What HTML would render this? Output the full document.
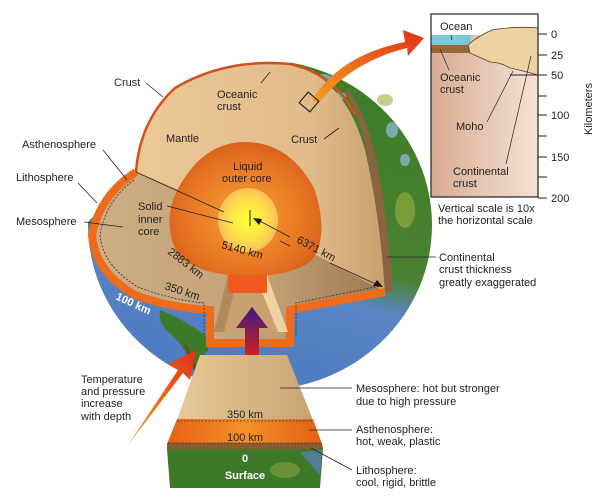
<!DOCTYPE html>
<html><head><meta charset="utf-8"><style>
html,body{margin:0;padding:0;background:#fff;}
svg{display:block;}
text{font-family:"Liberation Sans",Arial,sans-serif;font-size:11px;fill:#222;}
</style></head><body>
<svg width="603" height="502" viewBox="0 0 603 502" xmlns="http://www.w3.org/2000/svg">
<defs>
<linearGradient id="globe" x1="0.6" y1="0" x2="0.35" y2="1">
<stop offset="0" stop-color="#3e7c2a"/><stop offset="0.55" stop-color="#4a8232"/><stop offset="0.66" stop-color="#5a86c6"/><stop offset="1" stop-color="#4a78c0"/>
</linearGradient>
<linearGradient id="vface" x1="0" y1="0" x2="1" y2="0">
<stop offset="0" stop-color="#ecc898"/><stop offset="0.7" stop-color="#e2bb8a"/><stop offset="1" stop-color="#c9a070"/>
</linearGradient>
<linearGradient id="hface" x1="0" y1="0" x2="1" y2="0">
<stop offset="0" stop-color="#cfae84"/><stop offset="0.6" stop-color="#c4a076"/><stop offset="1" stop-color="#9c7850"/>
</linearGradient>
<radialGradient id="core" cx="0.5" cy="0.55" r="0.6">
<stop offset="0" stop-color="#f7a030"/><stop offset="0.6" stop-color="#ea7a24"/><stop offset="1" stop-color="#d45a1a"/>
</radialGradient>
<radialGradient id="inner" cx="0.5" cy="0.5" r="0.5">
<stop offset="0" stop-color="#ffff30"/><stop offset="0.6" stop-color="#fde24a"/><stop offset="1" stop-color="#f8c058"/>
</radialGradient>
<linearGradient id="purple" x1="0" y1="0" x2="0" y2="1">
<stop offset="0" stop-color="#3a1a80"/><stop offset="1" stop-color="#d02020"/>
</linearGradient>
<linearGradient id="wtan" x1="0" y1="0" x2="1" y2="0">
<stop offset="0" stop-color="#e8c898"/><stop offset="1" stop-color="#c8a474"/>
</linearGradient>
<linearGradient id="worange" x1="0" y1="0" x2="1" y2="0">
<stop offset="0" stop-color="#e86018"/><stop offset="0.5" stop-color="#f49028"/><stop offset="1" stop-color="#e06018"/>
</linearGradient>
<linearGradient id="inset" x1="0" y1="0" x2="1" y2="0">
<stop offset="0" stop-color="#d8ac92"/><stop offset="1" stop-color="#f4e2d4"/>
</linearGradient>
<linearGradient id="arr" x1="0" y1="1" x2="1" y2="0">
<stop offset="0" stop-color="#f5a020"/><stop offset="1" stop-color="#e03018"/>
</linearGradient>
</defs>

<!-- globe -->
<ellipse cx="260" cy="225" rx="172" ry="165" fill="url(#globe)"/>
<path d="M0 0 L300 0 L290 64 Q225 58 175 88 Q140 120 136 172 L88 222 L0 222 Z" fill="#fff"/>
<g fill="#8fb0d0" opacity="0.8">
<ellipse cx="322" cy="78" rx="10" ry="4"/><ellipse cx="340" cy="96" rx="6" ry="4"/>
<ellipse cx="392" cy="130" rx="6" ry="8"/><ellipse cx="405" cy="160" rx="5" ry="6"/>
</g>
<g fill="#9ab040" opacity="0.6">
<ellipse cx="405" cy="210" rx="10" ry="18"/><ellipse cx="385" cy="100" rx="8" ry="6"/>
</g>
<path d="M160 310 Q185 320 205 335 L208 350 Q200 360 198 375 L190 365 Q185 345 168 332 Q158 322 160 310 Z" fill="#3f7a2a"/>
<path d="M185 345 Q192 355 196 372" stroke="#6a4a20" stroke-width="3" fill="none"/>

<!-- vertical face -->
<path d="M136 172 Q140 120 175 88 Q225 58 290 64 Q345 78 365 150 Q380 215 385 292 L250 220 Z" fill="url(#vface)"/>
<path d="M136 172 Q140 120 175 88 Q225 58 290 64 Q335 74 355 115" fill="none" stroke="#d0501a" stroke-width="2.5"/>
<path d="M345 92 Q361 118 366 152 Q380 215 385 292 L393 292 Q388 215 375 155 Q367 118 349 90 Z" fill="#8a6440"/>

<!-- horizontal face -->
<path d="M136 172 Q100 195 92 235 Q95 272 135 295 Q170 308 210 310 L210 343 L290 343 L290 310 L385 292 L250 220 Z" fill="url(#hface)"/>
<path d="M136 172 Q100 195 92 235 Q95 272 135 295 Q170 308 210 310 L210 343 L290 343 L290 310 L385 292" fill="none" stroke="#ee6a1c" stroke-width="8"/>
<path d="M134 180 Q106 200 100 235 Q103 266 138 287 Q172 300 204 303 L204 336" fill="none" stroke="#333" stroke-width="0.8" stroke-dasharray="2,1.5"/>
<path d="M296 336 L296 303 L380 286" fill="none" stroke="#333" stroke-width="0.8" stroke-dasharray="2,1.5"/>

<!-- core -->
<path d="M245 142 Q290 142 315 190 Q330 240 310 262 Q290 276 250 276 Q200 276 178 255 Q160 220 180 185 Q205 142 245 142 Z" fill="url(#core)"/>
<ellipse cx="248" cy="220" rx="30" ry="32" fill="url(#inner)"/>

<!-- shaft -->
<path d="M228 275 L267 275 L288 332 L214 332 Z" fill="#c8a072"/>
<path d="M228 275 L214 332 L224 332 L234 292 Z" fill="#b08a5c"/>
<path d="M267 275 L288 332 L278 332 L262 292 Z" fill="#eed2a0"/>
<rect x="228" y="275" width="39" height="18" fill="#f05a1e"/>

<!-- purple arrow -->
<path d="M245 355 L245 328 L236 328 L252 307 L268 328 L259 328 L259 355 Z" fill="url(#purple)"/>

<!-- orange arrow lower-left -->
<path d="M128 445 L178 370 L168 364 L196 350 L190 380 L183 373 Z" fill="url(#arr)"/>

<!-- wedge -->
<path d="M200 355 L287 355 L313 420 L177 420 Z" fill="url(#wtan)"/>
<path d="M177 419 L313 419 L322 444 L167 444 Z" fill="url(#worange)"/>
<path d="M167 443 L322 443 L323 449 L167 449 Z" fill="#8a5a30"/>
<path d="M167 449 L323 449 L320 488 L170 488 Z" fill="#3c7a28"/>
<ellipse cx="285" cy="470" rx="15" ry="8" fill="#8aa040" opacity="0.6"/>
<path d="M300 452 L322 450 L320 475 Z" fill="#5a80c0" opacity="0.7"/>
<path d="M177 421 L313 421 M168 443 L322 443" stroke="#333" stroke-width="0.8" stroke-dasharray="2,1.5"/>

<!-- top-right arrow -->
<path d="M312 100 Q340 55 405 42 L403 30 L424 38 L408 56 L407 48 Q350 62 318 104 Z" fill="url(#arr)"/>
<rect x="302" y="95" width="14" height="14" fill="none" stroke="#111" stroke-width="1" transform="rotate(40 309 102)"/>

<!-- inset -->
<rect x="431" y="14" width="107" height="183" fill="url(#inset)"/>
<rect x="431" y="14" width="107" height="21" fill="#fff"/>
<rect x="431" y="35" width="40" height="10" fill="#7cc8d4"/>
<rect x="431" y="45" width="40" height="8" fill="#9a6838"/>
<path d="M468 45 Q478 36 492 30 Q515 26 538 28 L538 75 Q520 70 510 68 Q500 62 490 62 L470 53 Z" fill="#efd2a2" stroke="#5a3a20" stroke-width="0.8"/>
<rect x="431" y="14" width="107" height="183" fill="none" stroke="#222" stroke-width="1.2"/>
<g stroke="#222" stroke-width="1">
<line x1="538" y1="34" x2="547" y2="34"/><line x1="538" y1="55" x2="547" y2="55"/><line x1="510" y1="75" x2="547" y2="75"/>
<line x1="538" y1="96" x2="547" y2="96"/><line x1="538" y1="115" x2="547" y2="115"/><line x1="538" y1="136" x2="547" y2="136"/>
<line x1="538" y1="157" x2="547" y2="157"/><line x1="538" y1="177" x2="547" y2="177"/><line x1="538" y1="198" x2="547" y2="198"/>
<line x1="451" y1="35" x2="452" y2="40" stroke-width="0.7"/>
<line x1="440" y1="49" x2="449" y2="70" stroke-width="0.7"/>
<line x1="513" y1="71" x2="487" y2="122" stroke-width="0.7"/>
<line x1="531" y1="56" x2="506" y2="164" stroke-width="0.7"/>
</g>
<text x="440" y="30">Ocean</text>
<text x="440" y="81">Oceanic</text><text x="440" y="93">crust</text>
<text x="456" y="130">Moho</text>
<text x="453" y="175">Continental</text><text x="453" y="187">crust</text>
<text x="551" y="38">0</text><text x="551" y="59">25</text><text x="551" y="79">50</text>
<text x="551" y="119">100</text><text x="551" y="161">150</text><text x="551" y="202">200</text>
<text x="0" y="0" transform="translate(592 135) rotate(-90)">Kilometers</text>
<text x="438" y="212">Vertical scale is 10x</text>
<text x="438" y="224">the horizontal scale</text>

<!-- leader lines -->
<g stroke="#222" stroke-width="0.8" fill="none">
<line x1="146" y1="83" x2="163" y2="97"/>
<line x1="261" y1="83" x2="270" y2="72"/>
<line x1="324" y1="139" x2="339" y2="128"/>
<line x1="103" y1="150" x2="127" y2="180"/>
<line x1="78" y1="183" x2="97" y2="203"/>
<line x1="84" y1="222" x2="123" y2="227"/>
<line x1="167" y1="206" x2="233" y2="223"/>
<line x1="136" y1="172" x2="224" y2="212"/>
<line x1="250" y1="210" x2="250" y2="226" stroke-width="1"/>
<line x1="256" y1="219" x2="290" y2="237"/>
<line x1="330" y1="263" x2="380" y2="286"/>
<line x1="280" y1="241" x2="290" y2="246"/>
<line x1="387" y1="257" x2="436" y2="257"/>
<line x1="280" y1="388" x2="352" y2="388"/>
<line x1="309" y1="430" x2="352" y2="430"/>
<line x1="311" y1="448" x2="352" y2="470"/>
</g>
<path d="M253 218 L262 219 L259 225 Z" fill="#111"/>
<path d="M383 287 L373 286 L377 280 Z" fill="#111"/>

<!-- labels -->
<text x="114" y="86">Crust</text>
<text x="217" y="98">Oceanic</text><text x="217" y="110">crust</text>
<text x="166" y="142">Mantle</text>
<text x="291" y="143">Crust</text>
<text x="22" y="148">Asthenosphere</text>
<text x="16" y="181">Lithosphere</text>
<text x="16" y="225">Mesosphere</text>
<text x="233" y="170">Liquid</text><text x="222" y="182">outer core</text>
<text x="138" y="210">Solid</text><text x="138" y="223">inner</text><text x="138" y="235">core</text>
<text x="0" y="0" transform="translate(221 248) rotate(15)">5140 km</text>
<text x="0" y="0" transform="translate(167 253) rotate(38)">2883 km</text>
<text x="0" y="0" transform="translate(164 289) rotate(18)">350 km</text>
<text x="0" y="0" transform="translate(115 299) rotate(25)" style="fill:#fff;font-weight:bold">100 km</text>
<text x="0" y="0" transform="translate(296 242) rotate(28)">6371 km</text>
<text x="439" y="261">Continental</text><text x="439" y="273">crust thickness</text><text x="439" y="286">greatly exaggerated</text>
<text x="81" y="383">Temperature</text><text x="81" y="395">and pressure</text><text x="81" y="407">increase</text><text x="81" y="420">with depth</text>
<text x="356" y="392">Mesosphere: hot but stronger</text><text x="356" y="405">due to high pressure</text>
<text x="356" y="433">Asthenosphere:</text><text x="356" y="445">hot, weak, plastic</text>
<text x="356" y="474">Lithosphere:</text><text x="356" y="486">cool, rigid, brittle</text>
<text x="245" y="418" text-anchor="middle">350 km</text>
<text x="245" y="441" text-anchor="middle">100 km</text>
<text x="245" y="462" text-anchor="middle" style="fill:#fff;font-weight:bold">0</text>
<text x="245" y="479" text-anchor="middle" style="fill:#fff;font-weight:bold">Surface</text>
</svg>
</body></html>
